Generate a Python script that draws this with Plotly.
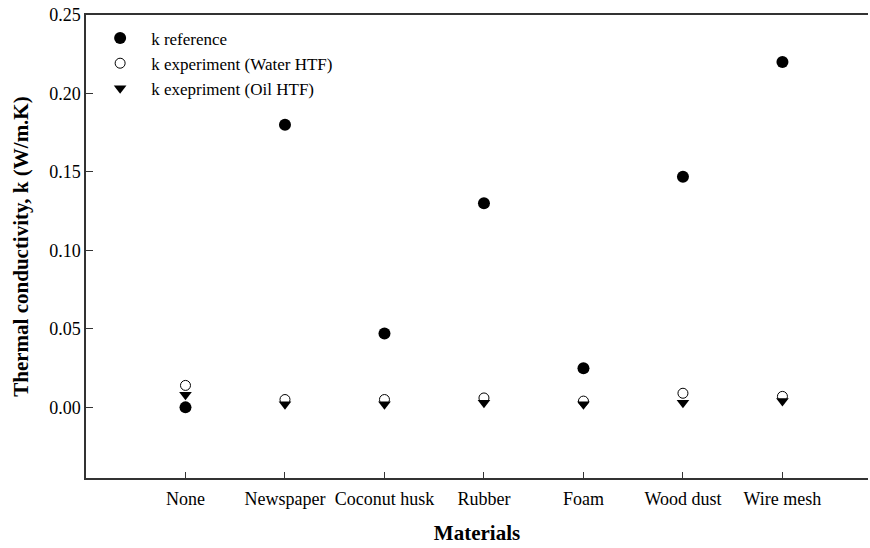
import plotly.graph_objects as go

# Materials tested and thermal conductivity values (W/m.K)
materials = ["None", "Newspaper", "Coconut husk", "Rubber", "Foam", "Wood dust", "Wire mesh"]
k_reference = [0.000, 0.180, 0.047, 0.130, 0.025, 0.147, 0.220]
k_water = [0.014, 0.005, 0.005, 0.006, 0.004, 0.009, 0.007]
k_oil = [0.008, 0.002, 0.002, 0.003, 0.002, 0.003, 0.004]

serif = "Liberation Serif"

fig = go.Figure()

fig.add_trace(go.Scatter(
    x=materials, y=k_reference, mode="markers", name="k reference",
    marker=dict(symbol="circle", size=12, color="black")
))
fig.add_trace(go.Scatter(
    x=materials, y=k_water, mode="markers", name="k experiment (Water HTF)",
    marker=dict(symbol="circle-open", size=10, color="black", line=dict(width=1))
))
fig.add_trace(go.Scatter(
    x=materials, y=k_oil, mode="markers", name="k exepriment (Oil HTF)",
    marker=dict(symbol="triangle-down", size=11, color="black")
))

fig.update_layout(
    width=870,
    height=548,
    margin=dict(l=86, r=2, t=15, b=70),
    plot_bgcolor="white",
    paper_bgcolor="white",
    font=dict(family=serif, color="black", size=18),
    legend=dict(
        x=0.004, y=0.988, xanchor="left", yanchor="top",
        bgcolor="rgba(0,0,0,0)",
        font=dict(family=serif, size=17),
        itemwidth=52,
    ),
    xaxis=dict(
        title=dict(text="<b>Materials</b>", font=dict(size=21), standoff=17),
        type="category",
        range=[-1.0, 6.86],
        automargin=False,
        showline=True, linecolor="#333", linewidth=1.5, mirror=True,
        showgrid=False, zeroline=False,
        ticks="inside", ticklen=6, tickcolor="#333",
        ticklabelstandoff=4,
        tickfont=dict(size=18),
    ),
    yaxis=dict(
        title=dict(text="<b>Thermal conductivity, k (W/m.K)</b>", font=dict(size=21), standoff=15),
        range=[-0.045, 0.25],
        tickvals=[0.0, 0.05, 0.10, 0.15, 0.20, 0.25],
        tickformat=".2f",
        automargin=False,
        showline=True, linecolor="#333", linewidth=1.5,
        showgrid=False, zeroline=False,
        ticks="inside", ticklen=7, tickcolor="#333",
        tickfont=dict(size=18),
    ),
)

# drop the default 8px body margin so the figure fills the window exactly
fig.write_html(
    "out.html",
    config={"displayModeBar": False},
    post_script="document.body.style.margin = '0';",
)
